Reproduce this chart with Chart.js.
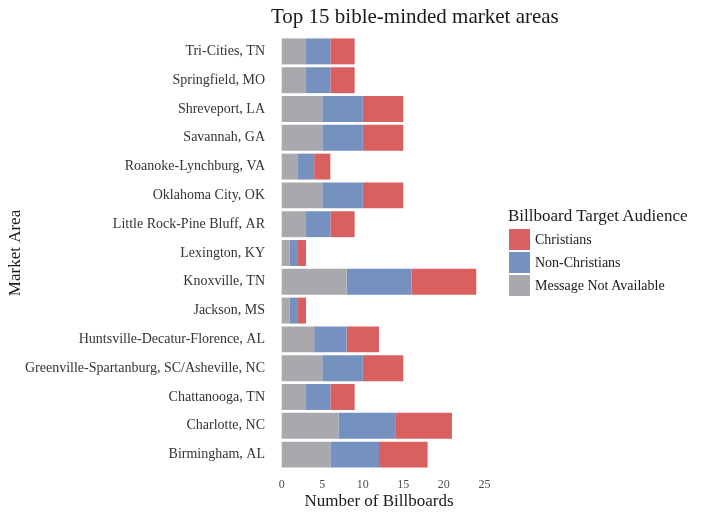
<!DOCTYPE html>
<html>
<head>
<meta charset="utf-8">
<script src="https://cdn.jsdelivr.net/npm/chart.js@4"></script>
<style>
  html, body { margin: 0; padding: 0; background: #fff; }
  #wrap { position: relative; width: 709px; height: 516px; }
  canvas { position: absolute; left: 0; top: 0; }
  #title { position: absolute; left: 271px; top: 3px; font-family: "Liberation Serif", serif; font-size: 21px; line-height: 26px; color: #1a1a1a; white-space: nowrap; }
  #legend { position: absolute; left: 508px; top: 205px; font-family: "Liberation Serif", serif; color: #1a1a1a; }
  #legend .ttl { font-size: 17px; line-height: 22px; margin-bottom: 1px; white-space: nowrap; }
  #legend .row { display: flex; align-items: center; height: 23px; }
  #legend .sw { width: 21px; height: 21px; margin-left: 1px; margin-right: 5px; }
  #legend .lb { font-size: 14px; white-space: nowrap; }
</style>
</head>
<body>
<div id="wrap">
  <canvas id="c" width="709" height="516"></canvas>
  <div id="title"></div>
  <div id="legend"></div>
</div>
<script>
const chartTitle = "Top 15 bible-minded market areas";
const categories = ["Tri-Cities, TN","Springfield, MO","Shreveport, LA","Savannah, GA","Roanoke-Lynchburg, VA","Oklahoma City, OK","Little Rock-Pine Bluff, AR","Lexington, KY","Knoxville, TN","Jackson, MS","Huntsville-Decatur-Florence, AL","Greenville-Spartanburg, SC/Asheville, NC","Chattanooga, TN","Charlotte, NC","Birmingham, AL"];
const christians    = [3,3,5,5,2,5,3,1,8,1,4,5,3,7,6];
const nonChristians = [3,3,5,5,2,5,3,1,8,1,4,5,3,7,6];
const notAvailable  = [3,3,5,5,2,5,3,1,8,1,4,5,3,7,6];
const xTicks = [0,5,10,15,20,25];

const SERIF = '"Liberation Serif", serif';
const datasets = [
  { label: "Message Not Available", data: notAvailable, backgroundColor: "#a9a8ac" },
  { label: "Non-Christians", data: nonChristians, backgroundColor: "#7491c0" },
  { label: "Christians", data: christians, backgroundColor: "#da6060" }
];

document.getElementById("title").textContent = chartTitle;

new Chart(document.getElementById("c"), {
  type: "bar",
  data: { labels: categories, datasets: datasets.map(d => Object.assign({ barPercentage: 0.9, categoryPercentage: 1.0, borderWidth: 0 }, d)) },
  options: {
    indexAxis: "y",
    responsive: false,
    animation: false,
    devicePixelRatio: 1,
    layout: { padding: { top: 37, right: 223, bottom: 0, left: 0 } },
    plugins: {
      legend: { display: false },
      tooltip: { enabled: false },
      title: { display: false }
    },
    scales: {
      x: {
        stacked: true,
        min: -1.2, max: 25.2,
        afterBuildTicks: s => { s.ticks = xTicks.map(v => ({ value: v })); },
        afterFit: s => { s.height = 47; },
        grid: { display: false, drawTicks: false },
        border: { display: false },
        ticks: { color: "#4d4d4d", font: { family: SERIF, size: 12 }, padding: 9 },
        title: { display: true, text: "Number of Billboards", color: "#1a1a1a", font: { family: SERIF, size: 17 }, padding: { top: 0, bottom: 4 } }
      },
      y: {
        stacked: true,
        afterFit: s => { s.width = 272; },
        grid: { display: false, drawTicks: false },
        border: { display: false },
        ticks: { color: "#333333", font: { family: SERIF, size: 14 }, padding: 7, autoSkip: false },
        title: { display: true, text: "Market Area", color: "#1a1a1a", font: { family: SERIF, size: 17 }, padding: { top: 5, bottom: 0 } }
      }
    }
  }
});

const leg = document.getElementById("legend");
let html = '<div class="ttl">Billboard Target Audience</div>';
datasets.slice().reverse().forEach(d => {
  html += '<div class="row"><div class="sw" style="background:' + d.backgroundColor + '"></div><div class="lb">' + d.label + '</div></div>';
});
leg.innerHTML = html;
</script>
</body>
</html>
